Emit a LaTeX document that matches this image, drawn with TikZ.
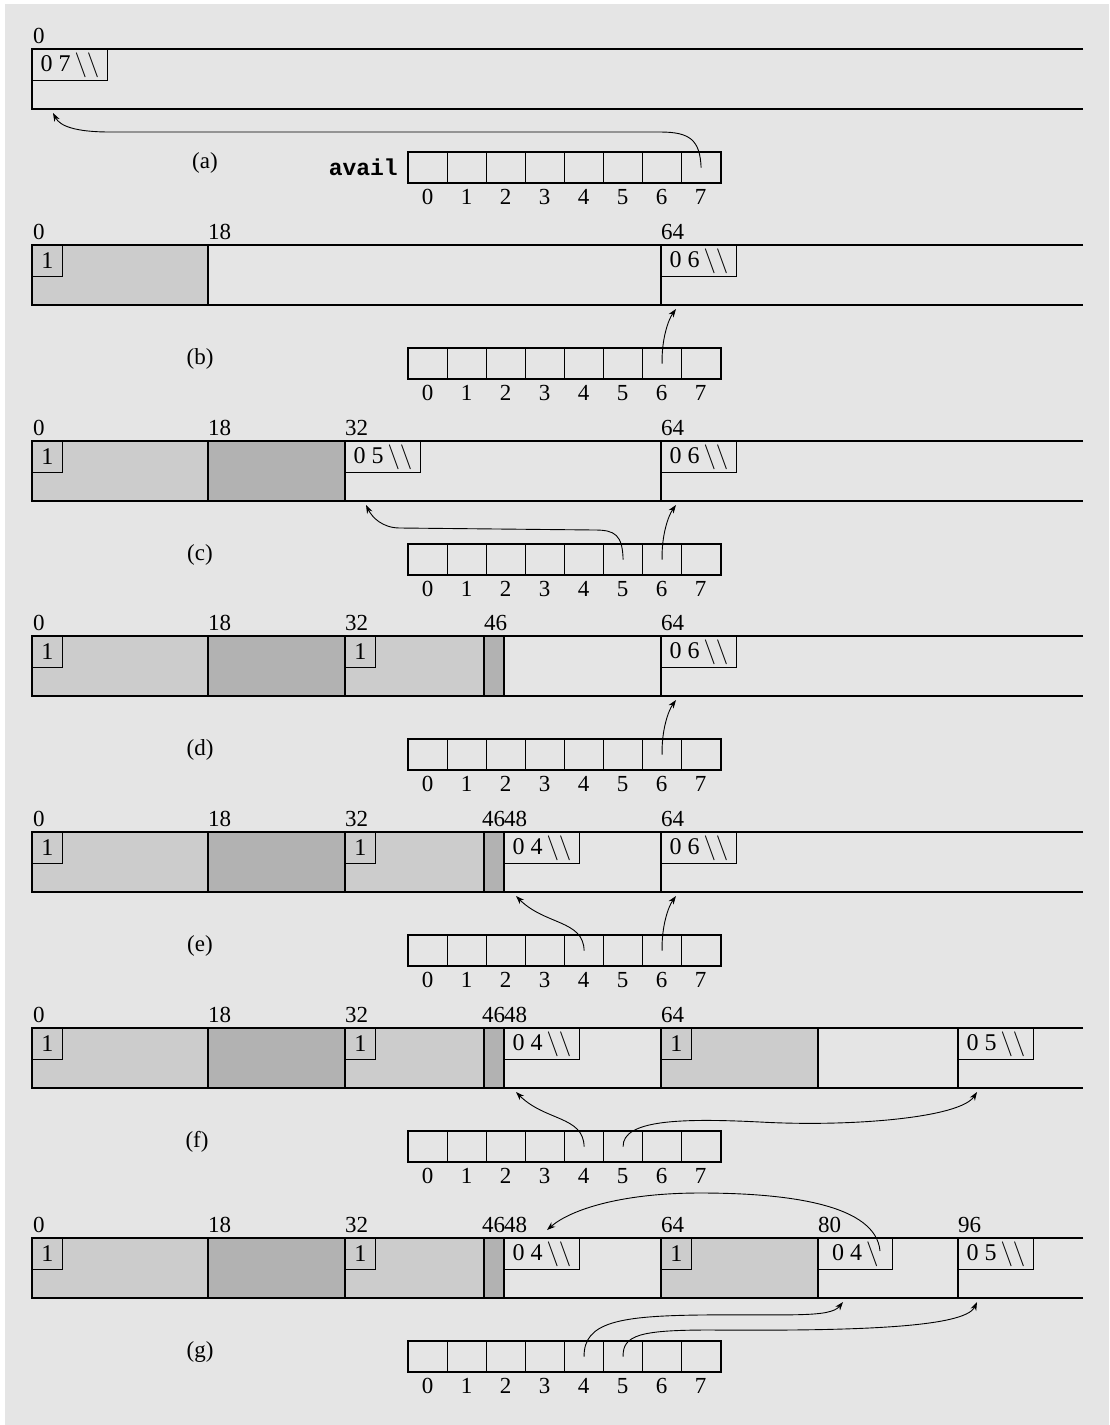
\documentclass[tikz,border=0pt]{standalone}
\usepackage{fontspec}
\setmainfont{Liberation Serif}
\newfontfamily\codefont{Liberation Mono}
\usetikzlibrary{arrows.meta}
\definecolor{bggray}{gray}{0.9}
\definecolor{lgray}{gray}{0.8}
\definecolor{dgray}{gray}{0.7}
\tikzset{
  lbl/.style={font=\fontsize{23}{25}\selectfont, inner sep=0pt},
  addr/.style={lbl, anchor=base west},
  idx/.style={font=\fontsize{23}{25}\selectfont, inner sep=0pt, anchor=center},
  cellbox/.style={draw, line width=1.2pt, minimum width=39pt, minimum height=30pt, inner sep=0pt, anchor=north west},
  tagbox/.style={draw, line width=0.9pt, minimum height=31pt, inner sep=0pt, anchor=north west, font=\fontsize{24}{26}\selectfont},
  sepline/.style={line width=1.2pt},
  outline/.style={line width=1.8pt},
  ptr/.style={line width=0.9pt, -{Stealth[length=8.5pt,width=6pt]}},
}
\newcommand\memfill[4]{\fill[#1] (#2,#4) rectangle (#3,{#4+60});}
\newcommand\memsep[2]{\draw[sepline] (#1,#2) -- (#1,{#2+60});}
\newcommand\memout[1]{\draw[outline] (1083,#1) -- (32,#1) -- (32,{#1+60}) -- (1083,{#1+60});}
\newcommand\memtag[5]{\node[tagbox, minimum width=#4pt] (#1) at (#2,#3) {#5};}
\newcommand\addr[4]{\node[addr] (#1) at (#2,{#3-6}) {#4};}
\newcommand\availarr[2]{%
  \foreach \i in {0,...,7} {
    \node[cellbox] (#1-c\i) at ({408+39*\i},#2) {};
    \node[idx] (#1-n\i) at ({427.5+39*\i},{#2+45}) {\i};
  }
  \draw[outline] (#1-c0.north west) rectangle (#1-c7.south east);
}
\newcommand\bs{$\backslash$}
\begin{document}
\begin{tikzpicture}[x=1pt,y=-1pt]
\useasboundingbox (0,0) rectangle (1109,1425);
\fill[white] (0,0) rectangle (1109,1425);
\fill[bggray] (5,4) rectangle (1109,1425);

% ---------- (a) ----------
\memtag{a-t0}{32}{49}{75}{0 7\,\bs\bs}
\memout{49}
\addr{a-l0}{33}{49}{0}
\availarr{a}{152}
\node[lbl] (a-lab) at (205,163) {(a)};
\node[lbl, anchor=east, font=\codefont\bfseries\fontsize{23}{24}\selectfont] (a-avail) at (398,167) {avail};
\coordinate (a-p0) at (53,113);
\draw[ptr] (a-c7.center) .. controls (700,140) and (690,132) .. (660,132) -- (110,132) .. controls (75,132) and (60,126) .. (a-p0);

% ---------- (b) ----------
\memfill{lgray}{32}{208}{245}
\memsep{208}{245}\memsep{661}{245}
\memtag{b-t0}{32}{245}{30}{1}
\memtag{b-t64}{661}{245}{75}{0 6\,\bs\bs}
\memout{245}
\addr{b-l0}{33}{245}{0}\addr{b-l18}{208}{245}{18}\addr{b-l64}{661}{245}{64}
\availarr{b}{348}
\node[lbl] (b-lab) at (200,359) {(b)};
\coordinate (b-p64) at (676,309);
\draw[ptr] (b-c6.center) .. controls (661.5,340) and (668,320) .. (b-p64);

% ---------- (c) ----------
\memfill{lgray}{32}{208}{441}\memfill{dgray}{208}{345}{441}
\memsep{208}{441}\memsep{345}{441}\memsep{661}{441}
\memtag{c-t0}{32}{441}{30}{1}
\memtag{c-t32}{345}{441}{75}{0 5\,\bs\bs}
\memtag{c-t64}{661}{441}{75}{0 6\,\bs\bs}
\memout{441}
\addr{c-l0}{33}{441}{0}\addr{c-l18}{208}{441}{18}\addr{c-l32}{345}{441}{32}\addr{c-l64}{661}{441}{64}
\availarr{c}{544}
\node[lbl] (c-lab) at (200,555) {(c)};
\coordinate (c-p32) at (366,505);
\coordinate (c-p64) at (676,505);
\draw[ptr] (c-c5.center) .. controls (622.5,535) and (615,530) .. (595,530) -- (400,528) .. controls (382,528) and (372,517) .. (c-p32);
\draw[ptr] (c-c6.center) .. controls (661.5,536) and (668,516) .. (c-p64);

% ---------- (d) ----------
\memfill{lgray}{32}{208}{636}\memfill{dgray}{208}{345}{636}\memfill{lgray}{345}{484}{636}\memfill{dgray}{484}{504}{636}
\memsep{208}{636}\memsep{345}{636}\memsep{484}{636}\memsep{504}{636}\memsep{661}{636}
\memtag{d-t0}{32}{636}{30}{1}
\memtag{d-t32}{345}{636}{30}{1}
\memtag{d-t64}{661}{636}{75}{0 6\,\bs\bs}
\memout{636}
\addr{d-l0}{33}{636}{0}\addr{d-l18}{208}{636}{18}\addr{d-l32}{345}{636}{32}\addr{d-l46}{484}{636}{46}\addr{d-l64}{661}{636}{64}
\availarr{d}{739}
\node[lbl] (d-lab) at (200,750) {(d)};
\coordinate (d-p64) at (676,700);
\draw[ptr] (d-c6.center) .. controls (661.5,731) and (668,711) .. (d-p64);

% ---------- (e) ----------
\memfill{lgray}{32}{208}{832}\memfill{dgray}{208}{345}{832}\memfill{lgray}{345}{484}{832}\memfill{dgray}{484}{504}{832}
\memsep{208}{832}\memsep{345}{832}\memsep{484}{832}\memsep{504}{832}\memsep{661}{832}
\memtag{e-t0}{32}{832}{30}{1}
\memtag{e-t32}{345}{832}{30}{1}
\memtag{e-t48}{504}{832}{75}{0 4\,\bs\bs}
\memtag{e-t64}{661}{832}{75}{0 6\,\bs\bs}
\memout{832}
\addr{e-l0}{33}{832}{0}\addr{e-l18}{208}{832}{18}\addr{e-l32}{345}{832}{32}\addr{e-l46}{482}{832}{46}\addr{e-l48}{504}{832}{48}\addr{e-l64}{661}{832}{64}
\availarr{e}{935}
\node[lbl] (e-lab) at (200,946) {(e)};
\coordinate (e-p48) at (516,896);
\coordinate (e-p64) at (676,896);
\draw[ptr] (e-c4.center) .. controls (583.5,920) and (545,925) .. (e-p48);
\draw[ptr] (e-c6.center) .. controls (661.5,927) and (668,907) .. (e-p64);

% ---------- (f) ----------
\memfill{lgray}{32}{208}{1028}\memfill{dgray}{208}{345}{1028}\memfill{lgray}{345}{484}{1028}\memfill{dgray}{484}{504}{1028}\memfill{lgray}{661}{818}{1028}
\memsep{208}{1028}\memsep{345}{1028}\memsep{484}{1028}\memsep{504}{1028}\memsep{661}{1028}\memsep{818}{1028}\memsep{958}{1028}
\memtag{f-t0}{32}{1028}{30}{1}
\memtag{f-t32}{345}{1028}{30}{1}
\memtag{f-t48}{504}{1028}{75}{0 4\,\bs\bs}
\memtag{f-t64}{661}{1028}{30}{1}
\memtag{f-t96}{958}{1028}{75}{0 5\,\bs\bs}
\memout{1028}
\addr{f-l0}{33}{1028}{0}\addr{f-l18}{208}{1028}{18}\addr{f-l32}{345}{1028}{32}\addr{f-l46}{482}{1028}{46}\addr{f-l48}{504}{1028}{48}\addr{f-l64}{661}{1028}{64}
\availarr{f}{1131}
\node[lbl] (f-lab) at (197,1142) {(f)};
\coordinate (f-p48) at (516,1092);
\coordinate (f-p96) at (977,1092);
\draw[ptr] (f-c4.center) .. controls (583.5,1116) and (545,1121) .. (f-p48);
\draw[ptr] (f-c5.center) .. controls (622.5,1120) and (680,1118) .. (760,1122) .. controls (850,1127) and (960,1118) .. (f-p96);

% ---------- (g) ----------
\memfill{lgray}{32}{208}{1238}\memfill{dgray}{208}{345}{1238}\memfill{lgray}{345}{484}{1238}\memfill{dgray}{484}{504}{1238}\memfill{lgray}{661}{818}{1238}
\memsep{208}{1238}\memsep{345}{1238}\memsep{484}{1238}\memsep{504}{1238}\memsep{661}{1238}\memsep{818}{1238}\memsep{958}{1238}
\memtag{g-t0}{32}{1238}{30}{1}
\memtag{g-t32}{345}{1238}{30}{1}
\memtag{g-t48}{504}{1238}{75}{0 4\,\bs\bs}
\memtag{g-t64}{661}{1238}{30}{1}
\memtag{g-t80}{818}{1238}{74}{0 4\,\bs}
\memtag{g-t96}{958}{1238}{75}{0 5\,\bs\bs}
\memout{1238}
\addr{g-l0}{33}{1238}{0}\addr{g-l18}{208}{1238}{18}\addr{g-l32}{345}{1238}{32}\addr{g-l46}{482}{1238}{46}\addr{g-l48}{504}{1238}{48}\addr{g-l64}{661}{1238}{64}\addr{g-l80}{818}{1238}{80}\addr{g-l96}{958}{1238}{96}
\availarr{g}{1341}
\node[lbl] (g-lab) at (200,1352) {(g)};
\coordinate (g-s80) at (880,1251);
\coordinate (g-p48) at (547,1230);
\coordinate (g-p80) at (843,1302);
\coordinate (g-p96) at (977,1302);
\draw[ptr] (g-s80) .. controls (876,1205) and (790,1193) .. (700,1193) .. controls (620,1193) and (570,1210) .. (g-p48);
\draw[ptr] (g-c4.center) .. controls (583.5,1322) and (620,1316) .. (700,1315) .. controls (790,1314) and (830,1318) .. (g-p80);
\draw[ptr] (g-c5.center) .. controls (622.5,1335) and (640,1330) .. (710,1330) .. controls (850,1331) and (965,1328) .. (g-p96);
\end{tikzpicture}
\end{document}
